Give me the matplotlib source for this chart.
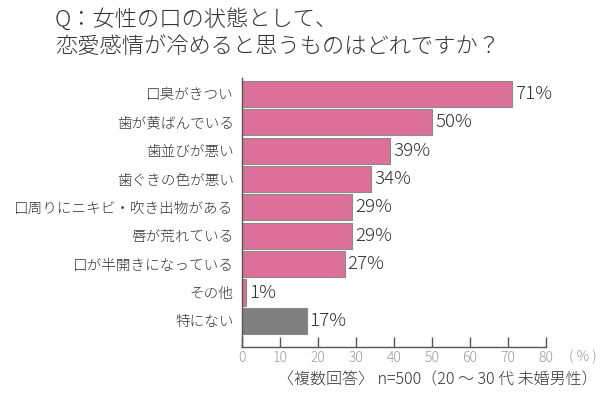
import matplotlib
matplotlib.use("Agg")
import matplotlib.pyplot as plt

plt.rcParams['font.family'] = ['Noto Sans CJK JP', 'DejaVu Sans']
plt.rcParams['font.weight'] = 'light'

categories = ["口臭がきつい", "歯が黄ばんでいる", "歯並びが悪い", "歯ぐきの色が悪い",
              "口周りにニキビ・吹き出物がある", "唇が荒れている", "口が半開きになっている",
              "その他", "特にない"]
values = [71, 50, 39, 34, 29, 29, 27, 1, 17]
colors = ["#DC7098"] * 8 + ["#7F7F7F"]
xticks = [0, 10, 20, 30, 40, 50, 60, 70, 80]
title = "Q：女性の口の状態として、\n恋愛感情が冷めると思うものはどれですか？"
footnote = "〈複数回答〉 n=500（20 ～ 30 代 未婚男性）"

fig = plt.figure(figsize=(6, 3.95), dpi=100)
ax = fig.add_axes([242/600, 1-347/395, (546-242)/600, (347-78)/395])

ypos = list(range(len(categories)))
ax.barh(ypos, values, height=0.92, color=colors, edgecolor="#8a8a8a", linewidth=0.8)
for y, v in zip(ypos, values):
    ax.text(v + 0.8, y, f"{v}%", va="center", ha="left", fontsize=13.5, color="#333333")

ax.set_xlim(0, 80)
ax.set_ylim(8.92, -0.56)
ax.set_yticks(ypos)
ax.set_yticklabels(categories, fontsize=10.5, color="#333333")
ax.tick_params(axis="y", length=0, pad=6)
ax.set_xticks(xticks)
ax.set_xticklabels([str(t) for t in xticks], fontsize=10, color="#9a9a9a")
ax.tick_params(axis="x", direction="in", length=7, width=1, color="#555555", pad=3)

for s in ["top", "right"]:
    ax.spines[s].set_visible(False)
for s in ["left", "bottom"]:
    ax.spines[s].set_color("#555555")
    ax.spines[s].set_linewidth(1)

fig.text(583/600, 1-357/395, "( % )", ha="center", va="center", fontsize=10, color="#9a9a9a")
fig.text(598/600, 1-380/395, footnote, ha="right", va="center", fontsize=11.5, color="#333333")
fig.text(55/600, 1-33/395, title, ha="left", va="center", fontsize=16, color="#333333",
         linespacing=1.35)

fig.savefig("out.png", dpi=100)
